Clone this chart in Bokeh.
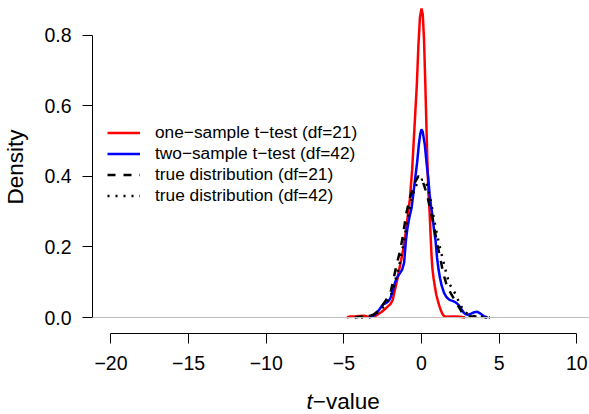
from bokeh.plotting import figure
from bokeh.layouts import column
from bokeh.models import Range1d, FixedTicker, Span, Legend, LegendItem
from bokeh.core.properties import value
from bokeh.embed import file_html
from bokeh.resources import INLINE

# ---- data ----
t_one = [-4.8, -4.6, -4.3, -4.0, -3.7, -3.5, -3.3, -3.0, -2.8, -2.6, -2.4, -2.2, -2.0, -1.85,
         -1.7, -1.55, -1.45, -1.3, -1.15, -1.0, -0.85, -0.75, -0.6, -0.5, -0.4, -0.3, -0.2,
         -0.1, 0.0, 0.08, 0.16, 0.25, 0.33, 0.4, 0.45, 0.52, 0.58, 0.64, 0.7, 0.78, 0.86,
         0.95, 1.05, 1.15, 1.25, 1.35, 1.45, 1.6, 1.9, 2.2, 2.5, 2.8]
d_one = [0.0, 0.003, 0.003, 0.004, 0.005, 0.003, 0.002, 0.004, 0.009, 0.015, 0.022, 0.03, 0.038, 0.05,
         0.08, 0.11, 0.133, 0.165, 0.2, 0.245, 0.3, 0.335, 0.42, 0.5, 0.58, 0.66, 0.77,
         0.85, 0.875, 0.858, 0.79, 0.655, 0.52, 0.41, 0.35, 0.30, 0.24, 0.18, 0.14, 0.11, 0.088,
         0.065, 0.048, 0.033, 0.02, 0.01, 0.004, 0.002, 0.003, 0.003, 0.002, 0.0]

t_two = [-3.4, -3.2, -3.0, -2.8, -2.6, -2.45, -2.3, -2.15, -2.0, -1.85, -1.7, -1.55, -1.4, -1.25,
         -1.12, -1.0, -0.9, -0.75, -0.64, -0.5, -0.39, -0.28, -0.17, -0.08, 0.0, 0.08, 0.21,
         0.32, 0.43, 0.52, 0.6, 0.7, 0.8, 0.9, 1.0, 1.1, 1.2, 1.3, 1.45, 1.6, 1.8, 2.0, 2.2,
         2.4, 2.55, 2.7, 2.85, 3.0, 3.2, 3.4, 3.6, 3.8, 4.0, 4.25]
d_two = [0.0, 0.003, 0.008, 0.018, 0.03, 0.038, 0.04, 0.045, 0.055, 0.075, 0.1, 0.115, 0.125, 0.135,
         0.155, 0.22, 0.255, 0.29, 0.31, 0.36, 0.40, 0.44, 0.49, 0.52, 0.533, 0.525, 0.49,
         0.44, 0.397, 0.35, 0.32, 0.29, 0.25, 0.22, 0.17, 0.135, 0.11, 0.09, 0.07, 0.058, 0.05, 0.047, 0.043,
         0.035, 0.025, 0.015, 0.009, 0.008, 0.011, 0.015, 0.016, 0.011, 0.004, 0.0]

t_true21 = [-4.3, -4.0, -3.7, -3.4, -3.1, -2.8, -2.5, -2.2, -2.0, -1.8, -1.6, -1.4, -1.2, -1.0,
            -0.8, -0.6, -0.4, -0.2, 0.0, 0.2, 0.4, 0.6, 0.8, 1.0, 1.2, 1.4, 1.6, 1.8, 2.0,
            2.2, 2.4, 2.6, 2.8, 3.0, 3.3, 3.6, 3.9, 4.2]
d_true21 = [0.0, 0.002, 0.003, 0.004, 0.008, 0.018, 0.035, 0.055, 0.07, 0.11, 0.15, 0.185, 0.23, 0.29,
            0.33, 0.36, 0.385, 0.40, 0.395, 0.37, 0.34, 0.30, 0.26, 0.21, 0.17, 0.125, 0.095, 0.075, 0.06,
            0.045, 0.03, 0.015, 0.007, 0.004, 0.003, 0.003, 0.002, 0.0]

t_true42 = [-3.9, -3.5, -3.2, -2.9, -2.6, -2.3, -2.0, -1.8, -1.6, -1.4, -1.2, -1.0, -0.8, -0.6,
            -0.4, -0.2, 0.0, 0.2, 0.4, 0.6, 0.8, 1.0, 1.2, 1.4, 1.6, 1.8, 2.0, 2.2, 2.4, 2.6,
            2.8, 3.0, 3.2, 3.5, 3.8, 4.1, 4.4]
d_true42 = [0.0, 0.003, 0.006, 0.012, 0.022, 0.04, 0.06, 0.085, 0.12, 0.155, 0.2, 0.25, 0.3, 0.34,
            0.37, 0.385, 0.39, 0.39, 0.37, 0.33, 0.28, 0.235, 0.195, 0.16, 0.125, 0.095, 0.08, 0.066,
            0.045, 0.028, 0.016, 0.009, 0.005, 0.003, 0.002, 0.001, 0.0]

series_labels = ["one\u2212sample t\u2212test (df=21)", "two\u2212sample t\u2212test (df=42)",
                 "true distribution (df=21)", "true distribution (df=42)"]

x_ticks = [-20, -15, -10, -5, 0, 5, 10]
x_tick_labels = ["\u221220", "\u221215", "\u221210", "\u22125", "0", "5", "10"]
y_ticks = [0.0, 0.2, 0.4, 0.6, 0.8]
y_tick_labels = ["0.0", "0.2", "0.4", "0.6", "0.8"]
x_title_italic = "t"
x_title_rest = "\u2212value"
y_title = "Density"

FONT = "Liberation Sans"
x_range = Range1d(-21.19, 10.82)

p = figure(width=589, height=385, output_backend="svg", toolbar_location=None,
           x_range=x_range, y_range=Range1d(-0.0453, 0.8977),
           min_border_left=92, min_border_right=0, min_border_top=0, min_border_bottom=52)
p.outline_line_color = None
p.grid.visible = False
p.background_fill_color = "white"
p.border_fill_color = "white"

p.add_layout(Span(location=0, dimension="width", line_color="#BEBEBE", line_width=1))

r1 = p.line(t_one, d_one, line_color="#FF0000", line_width=2.5)
r2 = p.line(t_two, d_two, line_color="#0000FF", line_width=2.5)
r3 = p.line(t_true21, d_true21, line_color="black", line_width=2.5, line_dash="8 8")
r4 = p.line(t_true42, d_true42, line_color="black", line_width=2.5, line_dash="2 6")

xa = p.xaxis[0]
xa.ticker = FixedTicker(ticks=x_ticks)
xa.major_label_overrides = {t: l for t, l in zip(x_ticks, x_tick_labels)}
xa.bounds = (x_ticks[0], x_ticks[-1])
ya = p.yaxis[0]
ya.ticker = FixedTicker(ticks=y_ticks)
ya.major_label_overrides = {t: l for t, l in zip(y_ticks, y_tick_labels)}
ya.bounds = (y_ticks[0], y_ticks[-1])
for ax in (xa, ya):
    ax.minor_tick_line_color = None
    ax.major_tick_in = 0
    ax.major_tick_out = 10
    ax.axis_line_color = "black"
    ax.major_tick_line_color = "black"
    ax.major_label_text_font = FONT
    ax.major_label_text_font_size = "19.5px"
    ax.major_label_text_color = "black"
xa.major_label_standoff = 12
ya.major_label_standoff = 11
ya.major_label_orientation = "horizontal"
ya.axis_label = y_title
ya.axis_label_text_font = FONT
ya.axis_label_text_font_size = "22.5px"
ya.axis_label_text_font_style = "normal"
ya.axis_label_text_color = "black"
ya.axis_label_standoff = 13

legend = Legend(items=[LegendItem(label=series_labels[0], renderers=[r1]),
                       LegendItem(label=series_labels[1], renderers=[r2]),
                       LegendItem(label=series_labels[2], renderers=[r3]),
                       LegendItem(label=series_labels[3], renderers=[r4])],
                location=(15, 127), border_line_color=None, background_fill_alpha=0,
                padding=0, margin=0, spacing=0, glyph_width=33, glyph_height=21,
                label_height=21, label_standoff=15, label_text_font=FONT,
                label_text_font_size="17.3px", label_text_color="black")
p.add_layout(legend)

# strip below the plot holding the x-axis title (italic "t" + "−value")
q = figure(width=589, height=29, output_backend="svg", toolbar_location=None,
           x_range=x_range, y_range=Range1d(0, 1),
           min_border_left=92, min_border_right=0, min_border_top=0, min_border_bottom=0)
q.axis.visible = False
q.grid.visible = False
q.outline_line_color = None
q.background_fill_color = "white"
q.border_fill_color = "white"
q.text(x=[-7.0], y=[0.45], text=[x_title_italic], text_align="right", text_baseline="middle",
       text_font=value(FONT), text_font_style="italic", text_font_size="22.5px", text_color="black")
q.text(x=[-7.0], y=[0.45], text=[x_title_rest], text_align="left", text_baseline="middle",
       text_font=value(FONT), text_font_size="22.5px", text_color="black")

layout = column(p, q, spacing=0)
open("out.html", "w").write(file_html(layout, INLINE))
